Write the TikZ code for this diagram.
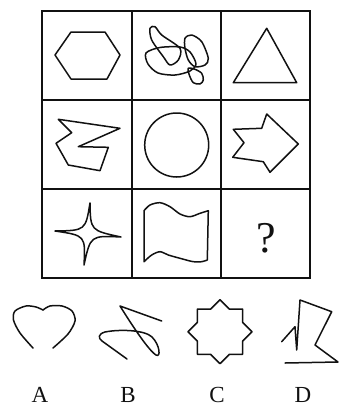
\documentclass[tikz,border=0pt]{standalone}
\usepackage{fontspec}
\setmainfont{Liberation Serif}
\usetikzlibrary{positioning, calc}
\definecolor{pzink}{HTML}{111111}
\definecolor{pzbg}{HTML}{FFFFFF}
\tikzset{
  gridline/.style={draw=pzink, line width=2pt},
  figline/.style={draw=pzink, line width=1.5pt, line join=round, line cap=round},
  optlabel/.style={text=pzink, font=\fontsize{23}{24}\selectfont, inner sep=0pt},
  qmark/.style={text=pzink, font=\fontsize{44}{46}\selectfont, inner sep=0pt},
}

\begin{document}
\begin{tikzpicture}[x=1pt, y=-1pt]
      \useasboundingbox[fill=pzbg] (0,0) rectangle (339,407);
      % 3x3 grid
      \draw[gridline] (42,11) rectangle (310,278);
      \foreach \gx in {131.5, 221}
        \draw[gridline] (\gx,11) -- (\gx,278);
      \foreach \gy in {99.5, 189}
        \draw[gridline] (42,\gy) -- (310,\gy);
      % row 1
      \draw[figline] (55,55) -- (71,32) -- (105,32) -- (120,55) -- (107,79) -- (71,79) -- cycle;
      \draw[figline] plot[smooth cycle] coordinates {(150,28.3) (155,26.7) (161.7,35) (180,48.3) (178.3,60) (170,65) (163.3,56.7) (151.7,40)};
      \draw[figline] plot[smooth cycle] coordinates {(146,53) (160,47.5) (180,47) (190,52) (196,64) (190,71) (175,75) (158,73) (148,64)};
      \draw[figline] plot[smooth cycle] coordinates {(185,38.3) (191.7,35) (201.7,41.7) (208.3,58.3) (205,65) (195,66.7) (188.3,60) (185,48.3)};
      \draw[figline] plot[smooth cycle] coordinates {(188.3,68.3) (195,69.3) (201.7,73.3) (203.3,80) (200,84) (193.3,82.7) (189.3,75)};
      \draw[figline] (266.7,28.3) -- (296.7,82.7) -- (233.3,82.7) -- cycle;
      % row 2
      \draw[figline] (58.3,119.3) -- (120,128.3) -- (78.3,146.7) -- (108.3,147.3) -- (100,170.7) -- (68.3,165) -- (61.7,153.3) -- (56,143.3) -- (71.7,132.7) -- cycle;
      \draw[figline] (176.7,145) circle[radius=32];
      \draw[figline] (233.3,129.3) -- (261.7,128.3) -- (266.7,114) -- (298.3,144) -- (270,172.3) -- (263.3,161.7) -- (232.7,157.3) -- (244,142.7) -- cycle;
      % row 3
      \draw[figline] (90,203) .. controls (90.5,230.5) .. (121,237) .. controls (90.5,235.5) .. (84,265)
        .. controls (85.5,235.5) .. (55,231) .. controls (85.5,230.5) .. cycle;
      \draw[figline] plot[smooth] coordinates {(144,210.7) (150,205) (160,202.7) (170,206.7) (180,214) (190,216.7) (200,213.3) (208.3,210.7)}
        -- (207.3,260)
        -- plot[smooth] coordinates {(207.3,260) (201.7,261.7) (193.3,261.7) (180,258.3) (168.3,255) (160,251.7) (151.7,255) (144,261.7)}
        -- cycle;
      \node[qmark] (ask) at (266.7,238) {?};
      % options
      \draw[figline] plot[smooth] coordinates {(33,348) (20,333) (13.5,320) (15,311) (26,306) (36,307) (43,310)};
      \draw[figline] plot[smooth] coordinates {(43,310) (50,306) (62,306) (72,311) (75,321) (68,334) (53,348)};
      \draw[figline] (161.7,321) -- (120,306) .. controls (130,322) and (148,350) .. (156,355)
        .. controls (161,358) and (160,345) .. (152,337)
        .. controls (145,330) and (120,329) .. (105,332)
        .. controls (98,334) and (98,338) .. (102,341) -- (127,359);
      \draw[figline] (90:32) ++(220,331.7) \foreach \k in {0,...,7} { -- ($(220,331.7)+(90+45*\k:32)$) -- ($(220,331.7)+(112.5+45*\k:24.5)$) } -- cycle;
      \draw[figline] (281.7,341.7) -- (295,326.7) -- (296.7,350) -- (300,300) -- (331.7,311.7) -- (315,345) -- (338,362) -- (285,363);
      \node[optlabel] (optA) at (40,395) {A};
      \node[optlabel] (optB) at (128,395) {B};
      \node[optlabel] (optC) at (217,395) {C};
      \node[optlabel] (optD) at (303,395) {D};
    \end{tikzpicture}
\end{document}
